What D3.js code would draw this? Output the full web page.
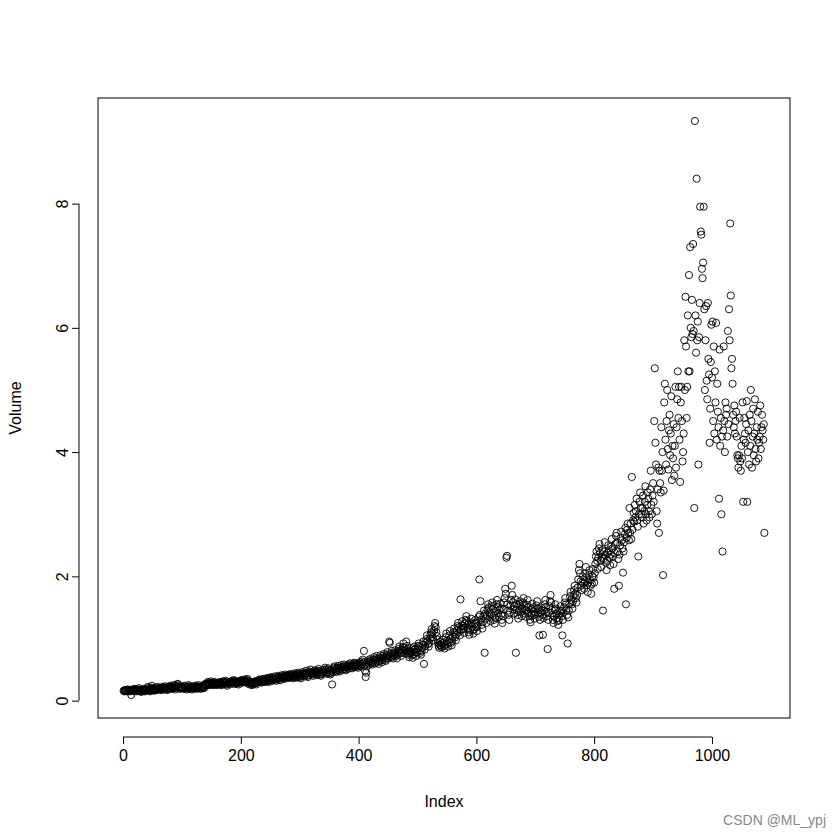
<!DOCTYPE html>
<html>
<head>
<meta charset="UTF-8"/>
<script src="https://d3js.org/d3.v7.min.js"></script>
<style>
  body { margin: 0; background: #fff; font-family: 'Liberation Sans', Arial, sans-serif; }
  svg text { font-size: 16px; fill: #000; }
  .axis path, .axis line { stroke: #000; }
  text.mark { font-size: 14px; fill: #888; }
</style>
</head>
<body>
<svg width="840" height="840"></svg>
<script>
// weekly volume (20 per row)
const volumeRows = [
"0.16 0.15 0.17 0.16 0.15 0.16 0.17 0.18 0.15 0.16 0.17 0.15 0.16 0.09 0.17 0.18 0.16 0.15 0.17 0.19",
"0.18 0.16 0.17 0.15 0.16 0.18 0.20 0.17 0.16 0.15 0.14 0.17 0.18 0.16 0.19 0.17 0.15 0.16 0.18 0.17",
"0.20 0.22 0.18 0.17 0.16 0.15 0.19 0.21 0.24 0.20 0.18 0.17 0.16 0.19 0.20 0.18 0.17 0.22 0.19 0.18",
"0.19 0.21 0.20 0.18 0.17 0.19 0.22 0.20 0.18 0.21 0.23 0.19 0.20 0.18 0.17 0.22 0.21 0.19 0.20 0.24",
"0.22 0.20 0.19 0.21 0.23 0.25 0.21 0.20 0.18 0.22 0.24 0.26 0.27 0.22 0.21 0.20 0.19 0.23 0.22 0.21",
"0.22 0.20 0.19 0.24 0.21 0.23 0.20 0.18 0.21 0.22 0.25 0.23 0.19 0.20 0.22 0.21 0.18 0.20 0.23 0.22",
"0.20 0.21 0.24 0.22 0.19 0.20 0.23 0.25 0.22 0.21 0.20 0.19 0.22 0.24 0.23 0.21 0.20 0.22 0.26 0.27",
"0.25 0.24 0.28 0.30 0.27 0.26 0.25 0.29 0.31 0.28 0.26 0.27 0.25 0.28 0.30 0.29 0.27 0.26 0.25 0.28",
"0.27 0.29 0.26 0.28 0.30 0.27 0.25 0.26 0.29 0.31 0.28 0.27 0.30 0.32 0.29 0.26 0.24 0.27 0.29 0.30",
"0.28 0.30 0.31 0.29 0.27 0.30 0.32 0.33 0.30 0.28 0.27 0.29 0.31 0.30 0.28 0.26 0.29 0.31 0.30 0.32",
"0.33 0.31 0.29 0.30 0.32 0.34 0.31 0.30 0.29 0.33 0.35 0.32 0.30 0.28 0.26 0.29 0.30 0.27 0.25 0.28",
"0.29 0.27 0.30 0.31 0.28 0.26 0.29 0.32 0.30 0.31 0.33 0.34 0.32 0.30 0.29 0.31 0.33 0.35 0.32 0.30",
"0.31 0.33 0.36 0.34 0.32 0.30 0.35 0.37 0.34 0.33 0.31 0.36 0.38 0.35 0.33 0.34 0.36 0.39 0.35 0.32",
"0.34 0.36 0.38 0.40 0.37 0.35 0.33 0.36 0.39 0.41 0.38 0.36 0.35 0.37 0.40 0.42 0.39 0.37 0.36 0.38",
"0.40 0.42 0.39 0.37 0.41 0.43 0.40 0.38 0.36 0.39 0.42 0.44 0.41 0.38 0.37 0.40 0.43 0.45 0.42 0.40",
"0.38 0.36 0.40 0.43 0.46 0.44 0.41 0.39 0.42 0.45 0.48 0.44 0.40 0.38 0.41 0.44 0.47 0.50 0.46 0.43",
"0.45 0.42 0.40 0.44 0.47 0.49 0.46 0.43 0.41 0.45 0.48 0.51 0.47 0.44 0.42 0.40 0.43 0.46 0.49 0.45",
"0.47 0.50 0.53 0.49 0.45 0.43 0.46 0.50 0.52 0.48 0.44 0.42 0.45 0.48 0.26 0.46 0.50 0.53 0.55 0.51",
"0.48 0.46 0.50 0.53 0.56 0.52 0.49 0.47 0.51 0.54 0.57 0.53 0.50 0.55 0.58 0.54 0.51 0.49 0.53 0.56",
"0.54 0.51 0.55 0.58 0.60 0.56 0.53 0.57 0.52 0.55 0.59 0.61 0.57 0.54 0.56 0.60 0.58 0.55 0.53 0.57",
"0.60 0.62 0.58 0.55 0.59 0.63 0.66 0.61 0.80 0.57 0.48 0.38 0.45 0.55 0.62 0.65 0.60 0.58 0.63 0.67",
"0.64 0.61 0.58 0.62 0.66 0.70 0.65 0.60 0.63 0.68 0.72 0.66 0.62 0.59 0.64 0.69 0.73 0.68 0.65 0.62",
"0.68 0.72 0.75 0.70 0.66 0.64 0.69 0.74 0.78 0.72 0.68 0.95 0.93 0.70 0.76 0.80 0.74 0.71 0.68 0.73",
"0.77 0.81 0.75 0.72 0.68 0.74 0.79 0.83 0.87 0.80 0.76 0.72 0.78 0.82 0.86 0.92 0.85 0.80 0.76 0.81",
"0.95 0.88 0.83 0.79 0.74 0.70 0.76 0.80 0.85 0.78 0.73 0.69 0.75 0.82 0.87 0.83 0.78 0.72 0.77 0.84",
"0.88 0.92 0.86 0.81 0.77 0.74 0.80 0.85 0.90 0.95 0.59 0.82 0.88 0.93 0.99 1.05 0.96 0.91 0.87 0.93",
"1.00 1.06 1.10 1.15 1.08 1.02 0.97 1.12 1.20 1.25 1.18 1.10 1.04 0.98 0.92 0.88 0.85 0.90 0.95 0.89",
"0.86 0.92 0.98 0.93 0.88 0.84 0.90 1.02 1.08 0.96 0.91 0.87 0.94 1.05 1.12 0.99 0.93 0.89 0.96 1.03",
"1.10 1.16 1.08 1.02 0.97 1.06 1.13 1.20 1.25 1.18 1.11 1.05 1.63 1.14 1.21 1.28 1.20 1.15 1.09 1.17",
"1.24 1.30 1.36 1.28 1.22 1.16 1.10 1.06 1.14 1.23 1.32 1.26 1.19 1.13 1.08 1.15 1.24 1.30 1.25 1.18",
"1.12 1.20 1.28 1.35 1.95 1.38 1.60 1.30 1.22 1.16 1.27 1.36 1.45 0.77 1.40 1.32 1.25 1.38 1.47 1.55",
"1.50 1.42 1.35 1.28 1.40 1.52 1.58 1.48 1.37 1.30 1.24 1.33 1.44 1.55 1.62 1.50 1.41 1.35 1.46 1.56",
"1.48 1.38 1.30 1.25 1.36 1.47 1.58 1.65 1.80 1.72 2.30 2.33 1.55 1.45 1.38 1.30 1.42 1.53 1.62 1.85",
"1.70 1.58 1.47 1.40 1.52 1.63 0.77 1.55 1.46 1.38 1.32 1.44 1.56 1.60 1.52 1.43 1.36 1.48 1.58 1.65",
"1.55 1.47 1.40 1.35 1.45 1.54 1.62 1.50 1.42 1.36 1.30 1.26 1.38 1.48 1.56 1.50 1.44 1.38 1.32 1.40",
"1.47 1.53 1.60 1.48 1.41 1.35 1.05 1.30 1.42 1.50 1.45 1.38 1.06 1.33 1.45 1.55 1.62 1.50 1.43 1.36",
"0.83 1.30 1.42 1.52 1.60 1.70 1.58 1.46 1.38 1.30 1.25 1.35 1.46 1.55 1.48 1.40 1.33 1.28 1.22 1.30",
"1.38 1.45 1.52 1.44 1.36 1.05 1.30 1.42 1.50 1.58 1.65 1.55 1.46 1.38 0.92 1.34 1.45 1.56 1.68 1.75",
"1.62 1.55 1.48 1.60 1.70 1.78 1.85 1.72 1.65 1.58 1.70 1.82 1.95 2.10 2.20 2.05 1.92 1.85 1.78 1.90",
"2.00 1.88 1.80 1.92 2.05 2.15 1.98 1.86 1.75 1.90 2.02 2.10 1.94 1.85 1.72 1.88 2.00 2.12 1.98 1.90",
"2.05 2.20 2.32 2.40 2.25 2.12 2.30 2.45 2.52 2.38 2.25 2.15 2.30 2.42 1.45 2.28 2.40 2.55 2.35 2.22",
"2.10 2.25 2.38 2.50 2.42 2.30 2.18 2.35 2.48 2.60 2.45 2.32 2.20 1.80 2.38 2.52 2.65 2.70 2.55 2.40",
"2.28 1.85 2.35 2.50 2.62 2.72 2.58 2.45 2.06 2.40 2.55 2.68 2.78 1.55 2.62 2.75 2.85 2.70 2.58 3.10",
"2.70 2.85 2.60 3.60 2.75 2.90 3.02 2.88 3.15 2.95 3.05 3.25 2.90 2.80 2.32 3.00 3.20 3.35 3.10 3.00",
"2.95 3.10 3.30 2.85 3.05 3.20 3.45 3.00 2.90 3.15 3.35 3.25 3.05 2.95 3.40 3.70 3.15 3.00 3.30 3.50",
"3.20 4.50 5.35 4.15 3.80 3.05 2.85 3.40 3.75 2.70 3.70 3.50 3.35 4.40 3.70 4.00 2.02 3.38 4.80 5.10",
"4.20 3.80 4.50 5.00 4.05 3.72 4.35 4.60 3.95 4.30 4.90 3.55 4.10 3.90 4.45 3.62 4.10 5.05 3.75 4.40",
"4.85 5.30 4.55 5.05 4.20 3.52 4.80 5.05 4.50 3.85 4.00 4.30 5.80 5.00 6.50 5.70 4.55 5.05 6.20 5.30",
"6.85 5.30 7.30 6.00 5.85 6.45 5.90 7.35 5.95 3.10 9.33 6.20 5.60 8.40 5.80 6.10 3.80 5.85 6.40 7.95",
"7.55 7.50 6.95 6.80 7.05 7.95 6.30 5.00 5.80 6.35 5.15 4.85 6.40 5.50 5.25 4.15 4.70 5.45 6.05 5.20",
"6.10 4.50 5.70 4.30 5.30 4.80 6.08 4.20 5.10 4.65 4.40 3.25 5.65 4.10 4.55 3.00 4.25 2.40 4.35 5.70",
"4.50 4.00 4.80 4.60 4.70 4.25 5.95 4.45 6.30 5.80 7.68 6.52 5.35 5.50 5.10 4.60 4.40 4.75 4.30 4.50",
"4.65 4.25 3.95 3.90 3.75 3.95 4.55 3.85 3.70 4.10 3.90 4.80 3.20 4.20 4.55 4.30 4.15 4.45 4.82 3.20",
"4.00 4.35 3.80 4.60 4.10 5.00 4.50 3.75 4.25 4.70 3.95 4.30 4.85 4.05 3.85 4.40 4.20 4.65 3.90 4.15",
"4.25 4.75 4.05 4.40 4.60 4.35 4.20 4.45 2.70"
];
const volume = volumeRows.join(" ").split(" ").map(Number);
const xTicks = [0, 200, 400, 600, 800, 1000];
const yTicks = [0, 2, 4, 6, 8];

const svg = d3.select('svg');
const boxL = 98, boxR = 790, boxT = 98, boxB = 718;

// R style: data range extended by 4% on each side
const n = volume.length;
const xPad = (n - 1) * 0.04;
const xScale = d3.scaleLinear().domain([1 - xPad, n + xPad]).range([boxL, boxR]);
const yMin = d3.min(volume), yMax = d3.max(volume);
const yPad = (yMax - yMin) * 0.04;
const yScale = d3.scaleLinear().domain([yMin - yPad, yMax + yPad]).range([boxB, boxT]);

svg.append('rect')
  .attr('x', boxL).attr('y', boxT)
  .attr('width', boxR - boxL).attr('height', boxB - boxT)
  .attr('fill', 'none').attr('stroke', '#000');

// x axis sits below the box
const xAxis = svg.append('g').attr('class', 'axis')
  .attr('transform', `translate(0, ${boxB + 19})`)
  .call(d3.axisBottom(xScale).tickValues(xTicks).tickFormat(d3.format('d'))
    .tickSize(7).tickPadding(6).tickSizeOuter(0));
xAxis.select('.domain').attr('d', `M${xScale(0)},0H${xScale(1000)}`);
xAxis.selectAll('text').style('font-size', '16px');

const yAxis = svg.append('g').attr('class', 'axis')
  .attr('transform', `translate(${boxL - 19}, 0)`)
  .call(d3.axisLeft(yScale).tickValues(yTicks).tickSize(7).tickSizeOuter(0));
yAxis.select('.domain').attr('d', `M0,${yScale(0)}V${yScale(8)}`);
yAxis.selectAll('text')
  .style('font-size', '16px')
  .attr('text-anchor', 'middle')
  .attr('transform', 'rotate(-90)')
  .attr('x', 0).attr('y', -17).attr('dy', '0.35em');

svg.append('g').selectAll('circle')
  .data(volume)
  .join('circle')
  .attr('cx', (d, i) => xScale(i + 1))
  .attr('cy', d => yScale(d))
  .attr('r', 3.6)
  .attr('fill', 'none')
  .attr('stroke', '#000')
  .attr('stroke-width', 0.9);

svg.append('text')
  .attr('x', (boxL + boxR) / 2).attr('y', 807)
  .attr('text-anchor', 'middle')
  .text('Index');

svg.append('text')
  .attr('transform', `translate(21, ${(boxT + boxB) / 2}) rotate(-90)`)
  .attr('text-anchor', 'middle')
  .text('Volume');

svg.append('text')
  .attr('class', 'mark')
  .attr('x', 826).attr('y', 825)
  .attr('text-anchor', 'end')
  .text('CSDN @ML_ypj');
</script>
</body>
</html>
